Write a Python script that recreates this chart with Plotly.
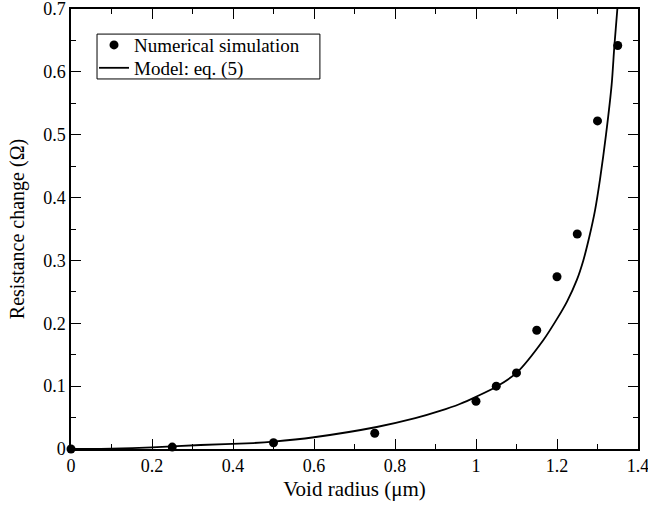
import plotly.graph_objects as go

# Numerical simulation points
sim_radius = [0.0, 0.25, 0.50, 0.75, 1.00, 1.05, 1.10, 1.15, 1.20, 1.25, 1.30, 1.35]
sim_dR = [0.0, 0.003, 0.010, 0.025, 0.076, 0.100, 0.121, 0.189, 0.274, 0.342, 0.522, 0.642]

# Model eq. (5) curve
model_radius = [0.0, 0.1, 0.2, 0.32, 0.45, 0.5, 0.6, 0.755, 0.85, 0.911, 0.96, 1.0, 1.05, 1.1,
                1.166, 1.2, 1.225, 1.249, 1.265, 1.28, 1.294, 1.306, 1.321, 1.335, 1.3415, 1.349, 1.353]
model_dR = [0.0, 0.0007, 0.0026, 0.0064, 0.0095, 0.0117, 0.0187, 0.035, 0.049, 0.0605, 0.0716, 0.083,
            0.099, 0.121, 0.173, 0.207, 0.235, 0.269, 0.300, 0.338, 0.380, 0.428, 0.500, 0.580,
            0.640, 0.700, 0.740]

font_family = "Liberation Serif"

fig = go.Figure()
fig.add_trace(go.Scatter(
    x=sim_radius, y=sim_dR, mode="markers", name="Numerical simulation",
    marker=dict(color="black", size=9, symbol="circle"),
    cliponaxis=False, legend="legend",
))
fig.add_trace(go.Scatter(
    x=model_radius, y=model_dR, mode="lines", name="Model: eq. (5)",
    line=dict(color="black", width=1.8, shape="spline", smoothing=0.8),
    legend="legend2",
))

axis_common = dict(
    showline=True, linecolor="black", linewidth=1.5, mirror="allticks",
    ticks="inside", ticklen=10, tickwidth=1, tickcolor="black",
    showgrid=False, zeroline=False, automargin=False, ticklabeloverflow="allow",
    tickfont=dict(family=font_family, size=18, color="black"),
)

fig.update_xaxes(
    range=[0, 1.4], dtick=0.2, tick0=0,
    minor=dict(dtick=0.1, ticks="inside", ticklen=5, tickcolor="black", showgrid=False),
    title=dict(text="Void radius (μm)", font=dict(family=font_family, size=21, color="black"), standoff=6),
    **axis_common,
)
fig.update_yaxes(
    range=[0, 0.7], dtick=0.1, tick0=0,
    minor=dict(dtick=0.05, ticks="inside", ticklen=5, tickcolor="black", showgrid=False),
    title=dict(text="Resistance change (Ω)", font=dict(family=font_family, size=20, color="black"), standoff=13),
    **axis_common,
)

legend_common = dict(
    xanchor="left", yanchor="middle", bgcolor="rgba(0,0,0,0)", borderwidth=0,
    font=dict(family=font_family, size=19, color="black"), itemwidth=30,
)

fig.update_layout(
    width=648, height=508,
    margin=dict(l=71, r=10, t=9, b=59),
    paper_bgcolor="white", plot_bgcolor="white",
    font=dict(family=font_family, size=19, color="black"),
    showlegend=True,
    legend=dict(x=0.0406, y=0.918, **legend_common),
    legend2=dict(x=0.0406, y=0.866, **legend_common),
    shapes=[dict(type="rect", xref="paper", yref="paper", x0=0.0459, x1=0.439, y0=0.841, y1=0.943,
                 line=dict(color="black", width=1), fillcolor="rgba(0,0,0,0)", layer="above")],
)

fig.write_html("out.html", config={"displayModeBar": False},
               post_script="document.body.style.margin='0';document.body.style.overflow='hidden';")
